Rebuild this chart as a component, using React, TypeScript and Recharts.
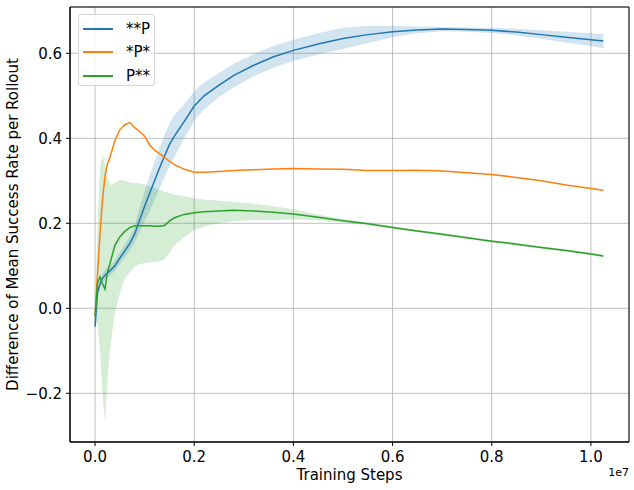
import {
  ComposedChart,
  Line,
  Area,
  XAxis,
  YAxis,
  CartesianGrid,
  ReferenceArea,
  Label,
} from "recharts";

// training steps shared by all three runs
const steps = [
  0, 50000, 100000, 150000, 200000, 250000, 300000, 400000, 500000, 600000,
  700000, 800000, 900000, 1000000, 1100000, 1200000, 1300000, 1400000, 1500000,
  1600000, 1800000, 2000000, 2200000, 2500000, 2800000, 3200000, 3600000,
  4000000, 4500000, 5000000, 5500000, 6000000, 6500000, 7000000, 7500000,
  8000000, 8500000, 9000000, 9500000, 10000000, 10250000,
];

// **P
const p1Mean = [
  -0.043, 0.036, 0.058, 0.071, 0.078, 0.083, 0.088, 0.1, 0.118, 0.135, 0.152,
  0.175, 0.208, 0.24, 0.27, 0.3, 0.33, 0.358, 0.385, 0.405, 0.44, 0.476, 0.5,
  0.525, 0.548, 0.572, 0.592, 0.607, 0.622, 0.635, 0.644, 0.651, 0.655, 0.657,
  0.656, 0.654, 0.65, 0.644, 0.638, 0.632, 0.629,
];
const p1Low = [
  -0.052, 0.026, 0.048, 0.06, 0.067, 0.072, 0.077, 0.088, 0.105, 0.12, 0.136,
  0.155, 0.18, 0.205, 0.228, 0.255, 0.282, 0.308, 0.334, 0.356, 0.4, 0.442,
  0.468, 0.497, 0.52, 0.546, 0.566, 0.582, 0.597, 0.61, 0.624, 0.638, 0.647,
  0.652, 0.651, 0.648, 0.642, 0.634, 0.625, 0.617, 0.612,
];
const p1High = [
  -0.034, 0.046, 0.068, 0.082, 0.089, 0.094, 0.099, 0.112, 0.131, 0.15, 0.168,
  0.195, 0.236, 0.275, 0.312, 0.345, 0.378, 0.408, 0.435, 0.455, 0.48, 0.51,
  0.532, 0.553, 0.576, 0.598, 0.618, 0.632, 0.647, 0.66, 0.664, 0.664, 0.663,
  0.662, 0.661, 0.66, 0.658, 0.654, 0.651, 0.647, 0.645,
];

// *P*
const p2Mean = [
  -0.02, 0.08, 0.175, 0.255, 0.31, 0.34, 0.355, 0.395, 0.42, 0.432, 0.437,
  0.425, 0.416, 0.405, 0.385, 0.372, 0.364, 0.355, 0.346, 0.338, 0.327, 0.32,
  0.32, 0.322, 0.324, 0.326, 0.328, 0.329, 0.328, 0.327, 0.324, 0.324, 0.325,
  0.323, 0.319, 0.315, 0.308, 0.3, 0.29, 0.282, 0.278,
];

// P**
const p3Mean = [
  -0.02, 0.06, 0.074, 0.058, 0.045, 0.085, 0.105, 0.148, 0.168, 0.181, 0.19,
  0.194, 0.194, 0.194, 0.194, 0.193, 0.193, 0.195, 0.205, 0.213, 0.221, 0.225,
  0.227, 0.229, 0.231, 0.229, 0.226, 0.222, 0.214, 0.206, 0.199, 0.19, 0.182,
  0.174, 0.166, 0.158, 0.151, 0.143, 0.136, 0.128, 0.123,
];
const p3Low = [
  -0.025, -0.04, -0.1, -0.2, -0.268, -0.17, -0.1, -0.01, 0.035, 0.07, 0.085,
  0.097, 0.104, 0.106, 0.108, 0.109, 0.11, 0.115, 0.13, 0.148, 0.168, 0.184,
  0.192, 0.2, 0.205, 0.208, 0.208, 0.209, 0.207, 0.202, 0.196, 0.187, 0.179,
  0.171, 0.163, 0.155, 0.148, 0.14, 0.133, 0.125, 0.12,
];
const p3High = [
  -0.015, 0.2, 0.33, 0.362, 0.34, 0.31, 0.29, 0.295, 0.302, 0.3, 0.296, 0.295,
  0.294, 0.29, 0.287, 0.283, 0.279, 0.274, 0.271, 0.268, 0.264, 0.259, 0.256,
  0.253, 0.25, 0.246, 0.24, 0.233, 0.221, 0.21, 0.202, 0.193, 0.185, 0.177,
  0.169, 0.161, 0.154, 0.146, 0.139, 0.131, 0.126,
];

const seriesNames = ["**P", "*P*", "P**"];
const seriesColors = ["#1f77b4", "#ff7f0e", "#2ca02c"];

const xTicks = [0, 2000000, 4000000, 6000000, 8000000, 10000000];
const yTicks = [-0.2, 0, 0.2, 0.4, 0.6];
const xDomain = [-505000, 10768000];
const yDomain = [-0.3146, 0.709];

const rows = steps.map((step, i) => ({
  step,
  p1: p1Mean[i],
  p1Band: [p1Low[i], p1High[i]],
  p2: p2Mean[i],
  p3: p3Mean[i],
  p3Band: [p3Low[i], p3High[i]],
}));

const font = "DejaVu Sans";
const tickStyle = { fontSize: 15, fill: "#000", fontFamily: font };
const fmtY = (v: number) => v.toFixed(1).replace("-", "\u2212");

export default function App() {
  return (
    <div
      style={{
        position: "absolute",
        left: 0,
        top: 0,
        width: 634,
        height: 490,
        background: "#fff",
        fontFamily: font,
      }}
    >
      <ComposedChart
        width={634}
        height={490}
        data={rows}
        margin={{ top: 7, right: 5, bottom: 0, left: 0 }}
      >
        <CartesianGrid stroke="#b0b0b0" strokeWidth={0.8} />
        <XAxis
          dataKey="step"
          type="number"
          domain={xDomain}
          ticks={xTicks}
          tickFormatter={(v: number) => (v / 1e7).toFixed(1)}
          height={48}
          tick={tickStyle}
          tickSize={4}
          tickMargin={5}
          tickLine={{ stroke: "#000" }}
          axisLine={{ stroke: "#000" }}
        >
          <Label
            value="Training Steps"
            position="insideBottom"
            offset={10}
            style={{ fontSize: 15, fill: "#000", fontFamily: font }}
          />
          <Label
            content={(props: any) => {
              const vb = props.viewBox;
              return (
                <text
                  x={vb.x + vb.width}
                  y={vb.y + 34}
                  textAnchor="end"
                  fontSize={11}
                  fontFamily={font}
                  fill="#000"
                >
                  1e7
                </text>
              );
            }}
          />
        </XAxis>
        <YAxis
          type="number"
          domain={yDomain}
          ticks={yTicks}
          tickFormatter={fmtY}
          width={70}
          tick={tickStyle}
          tickSize={4}
          tickMargin={4}
          tickLine={{ stroke: "#000" }}
          axisLine={{ stroke: "#000" }}
        >
          <Label
            value="Difference of Mean Success Rate per Rollout"
            angle={-90}
            position="insideLeft"
            offset={13}
            style={{ fontSize: 15, fill: "#000", fontFamily: font, textAnchor: "middle" }}
          />
        </YAxis>
        <Area
          dataKey="p1Band"
          stroke="none"
          fill={seriesColors[0]}
          fillOpacity={0.2}
          isAnimationActive={false}
          activeDot={false}
        />
        <Line
          dataKey="p1"
          stroke={seriesColors[0]}
          strokeWidth={1.5}
          dot={false}
          activeDot={false}
          isAnimationActive={false}
        />
        <Line
          dataKey="p2"
          stroke={seriesColors[1]}
          strokeWidth={1.5}
          dot={false}
          activeDot={false}
          isAnimationActive={false}
        />
        <Area
          dataKey="p3Band"
          stroke="none"
          fill={seriesColors[2]}
          fillOpacity={0.2}
          isAnimationActive={false}
          activeDot={false}
        />
        <Line
          dataKey="p3"
          stroke={seriesColors[2]}
          strokeWidth={1.5}
          dot={false}
          activeDot={false}
          isAnimationActive={false}
        />
        <ReferenceArea
          x1={xDomain[0]}
          x2={xDomain[1]}
          y1={yDomain[0]}
          y2={yDomain[1]}
          fill="none"
          stroke="#000"
          strokeWidth={1}
        />
      </ComposedChart>

      {/* legend box, upper left like matplotlib */}
      <div
        style={{
          position: "absolute",
          left: 78,
          top: 14,
          width: 77,
          height: 72,
          boxSizing: "border-box",
          border: "1px solid #d6d6d6",
          borderRadius: 3,
          background: "rgba(255,255,255,0.8)",
          paddingTop: 2,
        }}
      >
        {seriesNames.map((name, i) => (
          <div
            key={name}
            style={{ display: "flex", alignItems: "center", height: 23.5 }}
          >
            <span
              style={{
                display: "inline-block",
                marginLeft: 4,
                width: 30,
                height: 2,
                background: seriesColors[i],
              }}
            />
            <span style={{ marginLeft: 13, fontSize: 15, color: "#000" }}>
              {name}
            </span>
          </div>
        ))}
      </div>
    </div>
  );
}
